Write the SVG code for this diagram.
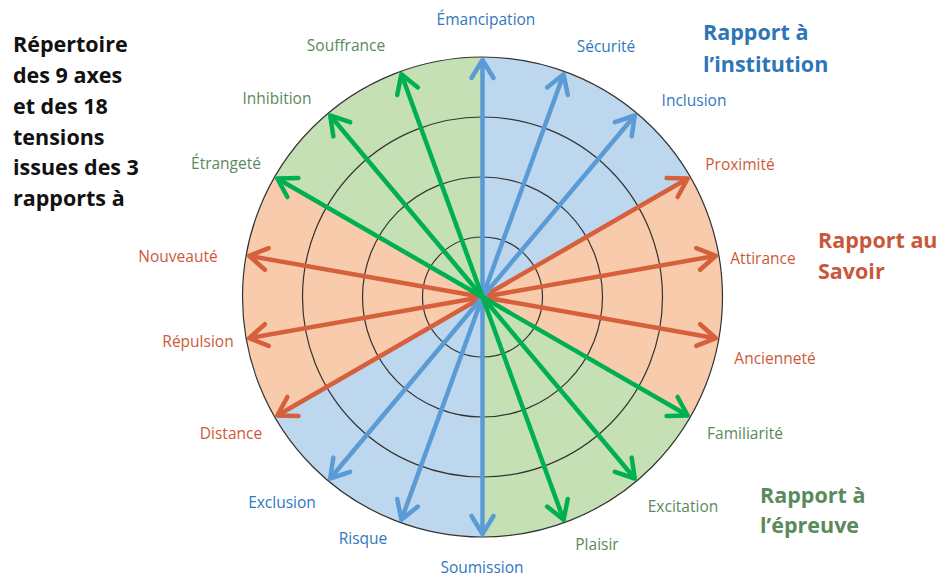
<svg xmlns="http://www.w3.org/2000/svg" width="940" height="577" viewBox="0 0 940 577">
<defs>
<style>
text{font-family:"Open Sans","Liberation Sans",sans-serif}
.lbl{font-size:15.5px;text-anchor:middle}
.tb{fill:#2f78c0}.tr{fill:#cc5a38}.tg{fill:#5a8a5c}
.cat{font-size:21.5px;font-weight:bold}
.ttl{font-size:21.5px;font-weight:bold;fill:#111}
.ring{fill:none;stroke:#333;stroke-width:1.2}
.ar{fill:none;stroke-width:4.5;stroke-linecap:butt}
.ab{stroke:#5b9bd5}.arr{stroke:#d5603b}.ag{stroke:#00b050}
</style>
<marker id="mb" markerUnits="userSpaceOnUse" orient="auto" markerWidth="30" markerHeight="30" refX="0" refY="0" viewBox="-22 -15 26 30" overflow="visible"><path d="M-18,-11 L0,0 L-18,11" fill="none" stroke="#5b9bd5" stroke-width="4.5" stroke-linejoin="round" stroke-linecap="round"/></marker>
<marker id="mr" markerUnits="userSpaceOnUse" orient="auto" markerWidth="30" markerHeight="30" refX="0" refY="0" viewBox="-22 -15 26 30" overflow="visible"><path d="M-18,-11 L0,0 L-18,11" fill="none" stroke="#d5603b" stroke-width="4.5" stroke-linejoin="round" stroke-linecap="round"/></marker>
<marker id="mg" markerUnits="userSpaceOnUse" orient="auto" markerWidth="30" markerHeight="30" refX="0" refY="0" viewBox="-22 -15 26 30" overflow="visible"><path d="M-18,-11 L0,0 L-18,11" fill="none" stroke="#00b050" stroke-width="4.5" stroke-linejoin="round" stroke-linecap="round"/></marker>
</defs>
<rect width="940" height="577" fill="#fff"/>
<g id="sectors">
<path d="M482.5,297 L482.5,57 A240,240 0 0 1 690.35,177 Z" fill="#bdd7ee"/>
<path d="M482.5,297 L690.35,177 A240,240 0 0 1 690.35,417 Z" fill="#f8cbad"/>
<path d="M482.5,297 L690.35,417 A240,240 0 0 1 482.5,537 Z" fill="#c5e0b4"/>
<path d="M482.5,297 L482.5,537 A240,240 0 0 1 274.65,417 Z" fill="#bdd7ee"/>
<path d="M482.5,297 L274.65,417 A240,240 0 0 1 274.65,177 Z" fill="#f8cbad"/>
<path d="M482.5,297 L274.65,177 A240,240 0 0 1 482.5,57 Z" fill="#c5e0b4"/>
</g>
<g id="rings">
<circle class="ring" cx="482.5" cy="297" r="60"/>
<circle class="ring" cx="482.5" cy="297" r="120"/>
<circle class="ring" cx="482.5" cy="297" r="180"/>
<circle class="ring" cx="482.5" cy="297" r="240"/>
</g>
<g id="connectors">
<g marker-end="url(#mr)" class="ar arr">
<line x1="482.5" y1="297" x2="687.7" y2="178.5"/>
<line x1="482.5" y1="297" x2="715.9" y2="255.8"/>
<line x1="482.5" y1="297" x2="715.9" y2="338.2"/>
<line x1="482.5" y1="297" x2="277.3" y2="415.5"/>
<line x1="482.5" y1="297" x2="249.1" y2="338.2"/>
<line x1="482.5" y1="297" x2="249.1" y2="255.8"/>
</g>
<g marker-end="url(#mb)" class="ar ab">
<line x1="482.5" y1="297" x2="482.5" y2="60"/>
<line x1="482.5" y1="297" x2="563.6" y2="74.3"/>
<line x1="482.5" y1="297" x2="634.8" y2="115.5"/>
<line x1="482.5" y1="297" x2="482.5" y2="534"/>
<line x1="482.5" y1="297" x2="401.4" y2="519.7"/>
<line x1="482.5" y1="297" x2="330.2" y2="478.5"/>
</g>
<g marker-end="url(#mg)" class="ar ag">
<line x1="482.5" y1="297" x2="687.7" y2="415.5"/>
<line x1="482.5" y1="297" x2="634.8" y2="478.5"/>
<line x1="482.5" y1="297" x2="563.6" y2="519.7"/>
<line x1="482.5" y1="297" x2="277.3" y2="178.5"/>
<line x1="482.5" y1="297" x2="330.2" y2="115.5"/>
<line x1="482.5" y1="297" x2="401.4" y2="74.3"/>
</g>
</g>
<g id="n-emancipation"><text class="lbl tb" x="486" y="25">Émancipation</text></g>
<g id="n-securite"><text class="lbl tb" x="606" y="52">Sécurité</text></g>
<g id="n-inclusion"><text class="lbl tb" x="694" y="106">Inclusion</text></g>
<g id="n-proximite"><text class="lbl tr" x="740" y="170">Proximité</text></g>
<g id="n-attirance"><text class="lbl tr" x="763" y="264">Attirance</text></g>
<g id="n-anciennete"><text class="lbl tr" x="775" y="364">Ancienneté</text></g>
<g id="n-familiarite"><text class="lbl tg" x="745" y="439">Familiarité</text></g>
<g id="n-excitation"><text class="lbl tg" x="683" y="512">Excitation</text></g>
<g id="n-plaisir"><text class="lbl tg" x="597" y="550">Plaisir</text></g>
<g id="n-soumission"><text class="lbl tb" x="482" y="573">Soumission</text></g>
<g id="n-risque"><text class="lbl tb" x="363" y="544">Risque</text></g>
<g id="n-exclusion"><text class="lbl tb" x="282" y="508">Exclusion</text></g>
<g id="n-distance"><text class="lbl tr" x="231" y="439">Distance</text></g>
<g id="n-repulsion"><text class="lbl tr" x="198" y="347">Répulsion</text></g>
<g id="n-nouveaute"><text class="lbl tr" x="178" y="262">Nouveauté</text></g>
<g id="n-etrangete"><text class="lbl tg" x="226" y="169">Étrangeté</text></g>
<g id="n-inhibition"><text class="lbl tg" x="277" y="104">Inhibition</text></g>
<g id="n-souffrance"><text class="lbl tg" x="346" y="51">Souffrance</text></g>
<g id="title">
<text class="ttl" x="13" y="52">Répertoire</text>
<text class="ttl" x="13" y="83">des 9 axes</text>
<text class="ttl" x="13" y="114">et des 18</text>
<text class="ttl" x="13" y="145">tensions</text>
<text class="ttl" x="13" y="175">issues des 3</text>
<text class="ttl" x="13" y="206">rapports à</text>
</g>
<g id="cat-institution"><text class="cat" x="703" y="40" fill="#2e75b6">Rapport à</text><text class="cat" x="703" y="72" fill="#2e75b6">l’institution</text></g>
<g id="cat-savoir"><text class="cat" x="818" y="248" fill="#c9573a">Rapport au</text><text class="cat" x="818" y="279" fill="#c9573a">Savoir</text></g>
<g id="cat-epreuve"><text class="cat" x="760" y="503" fill="#5a8a5c">Rapport à</text><text class="cat" x="760" y="533" fill="#5a8a5c">l’épreuve</text></g>
</svg>
